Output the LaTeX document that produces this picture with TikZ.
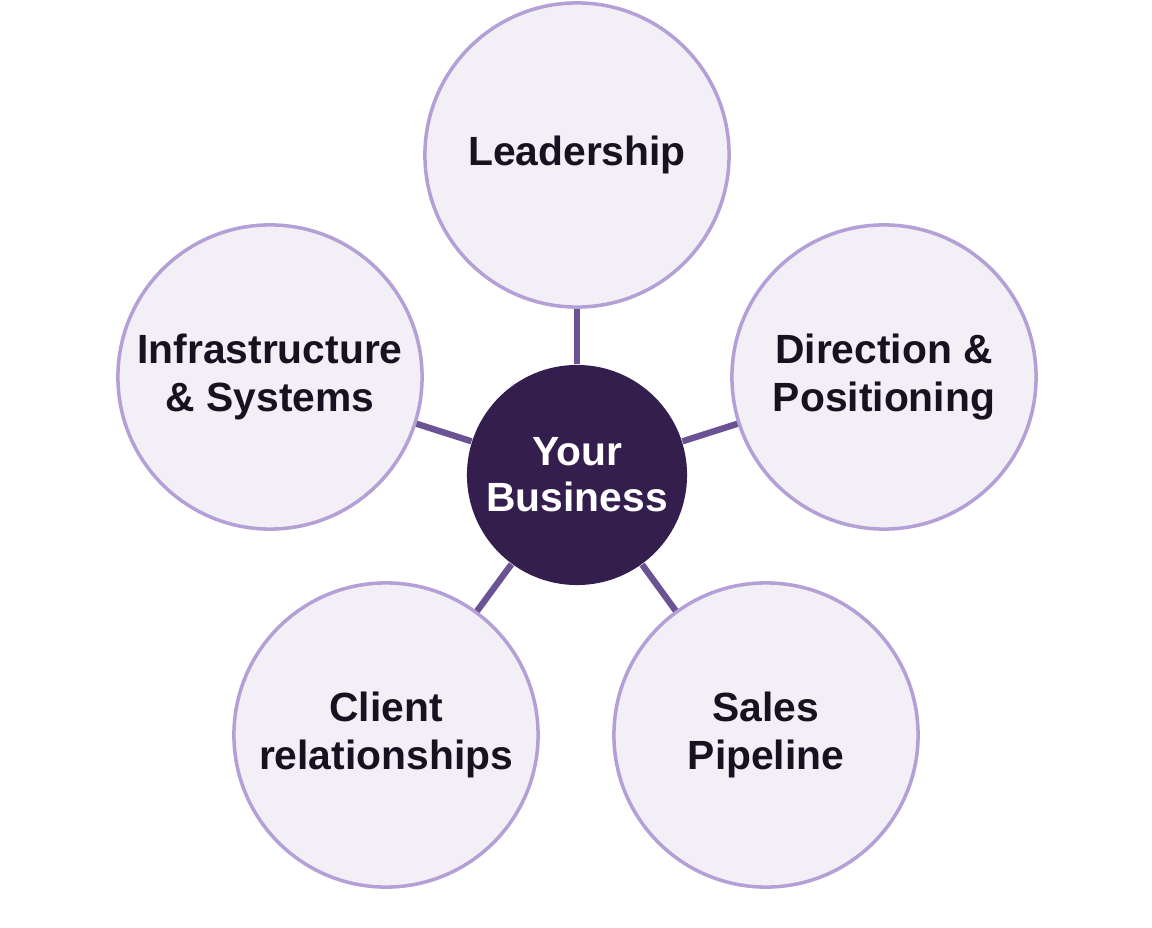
\documentclass[tikz,border=0pt]{standalone}
\usepackage{fontspec}
\setmainfont{Liberation Sans}
\definecolor{petal}{HTML}{F2EFF7}
\definecolor{petalline}{HTML}{B4A0D6}
\definecolor{hub}{HTML}{331E4E}
\definecolor{ink}{HTML}{16121F}
\definecolor{spoke}{HTML}{6B5292}
\begin{document}
\begin{tikzpicture}[x=0.01cm, y=-0.01cm,
  petal/.style={circle, draw=petalline, line width=1pt, fill=petal,
    minimum size=3.04cm, inner sep=0pt, align=center,
    font=\fontsize{11.6}{13.5}\selectfont\bfseries, text=ink},
  hub/.style={circle, fill=hub, minimum size=2.2cm, inner sep=0pt,
    align=center, font=\fontsize{11.6}{13}\selectfont\bfseries, text=white},
  spoke/.style={draw=spoke, line width=1.8pt}]
  \useasboundingbox (0,0) rectangle (1152,928);

  \node[hub] (business) at (577,475) {Your\\Business};
  \node[petal] (leadership) at (577,155) {Leadership};
  \node[petal] (direction) at (884,377) {Direction \&\\Positioning};
  \node[petal] (sales) at (766,735) {Sales\\Pipeline};
  \node[petal] (client) at (386,735) {Client\\relationships};
  \node[petal] (infra) at (270,377) {Infrastructure\\\& Systems};

  \foreach \n in {leadership, direction, sales, client, infra}
    \draw[spoke] (business) -- (\n);
\end{tikzpicture}
\end{document}
